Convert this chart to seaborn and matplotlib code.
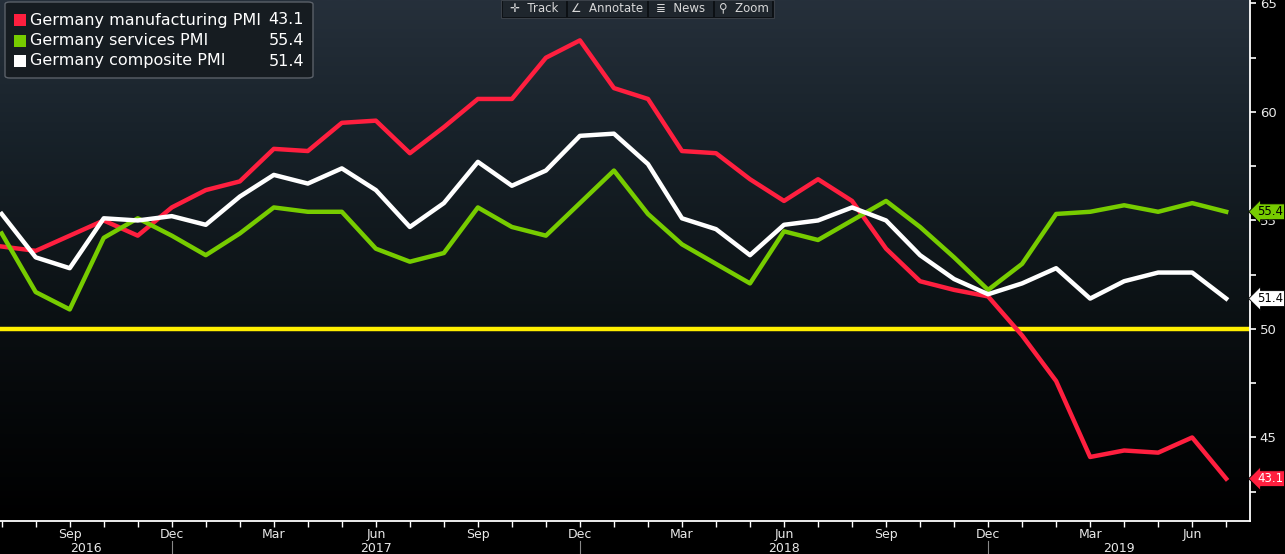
import numpy as np
import pandas as pd
import seaborn as sns
import matplotlib.pyplot as plt
from matplotlib.colors import LinearSegmentedColormap
from matplotlib.patches import FancyBboxPatch, Rectangle
from matplotlib.transforms import blended_transform_factory
from matplotlib.lines import Line2D

# monthly data, Jul 2016 .. Jul 2019
months = pd.period_range("2016-07", "2019-07", freq="M")
manufacturing = [53.8, 53.6, 54.3, 55.0, 54.3, 55.6,
                 56.4, 56.8, 58.3, 58.2, 59.5, 59.6, 58.1, 59.3, 60.6, 60.6, 62.5, 63.3,
                 61.1, 60.6, 58.2, 58.1, 56.9, 55.9, 56.9, 55.9, 53.7, 52.2, 51.8, 51.5,
                 49.7, 47.6, 44.1, 44.4, 44.3, 45.0, 43.1]
services = [54.4, 51.7, 50.9, 54.2, 55.1, 54.3,
            53.4, 54.4, 55.6, 55.4, 55.4, 53.7, 53.1, 53.5, 55.6, 54.7, 54.3, 55.8,
            57.3, 55.3, 53.9, 53.0, 52.1, 54.5, 54.1, 55.0, 55.9, 54.7, 53.3, 51.8,
            53.0, 55.3, 55.4, 55.7, 55.4, 55.8, 55.4]
composite = [55.3, 53.3, 52.8, 55.1, 55.0, 55.2,
             54.8, 56.1, 57.1, 56.7, 57.4, 56.4, 54.7, 55.8, 57.7, 56.6, 57.3, 58.9,
             59.0, 57.6, 55.1, 54.6, 53.4, 54.8, 55.0, 55.6, 55.0, 53.4, 52.3, 51.6,
             52.1, 52.8, 51.4, 52.2, 52.6, 52.6, 51.4]
series_names = ["Germany manufacturing PMI", "Germany services PMI", "Germany composite PMI"]
threshold = 50
y_ticks = [45, 50, 55, 60, 65]

colors = {"Germany manufacturing PMI": "#ff1f3f",
          "Germany services PMI": "#77cc00",
          "Germany composite PMI": "#ffffff"}

W, H = 1285, 554
fig = plt.figure(figsize=(W / 100, H / 100), dpi=100, facecolor="black")
ax = fig.add_axes([0, 33 / H, 1250 / W, 1 - 33 / H])
ax.set_facecolor("black")

# gradient background
grad = LinearSegmentedColormap.from_list(
    "bg", ["#000000", "#06090b", "#0f161a", "#18222a", "#26303b"])
ax.imshow(np.linspace(0, 1, 256).reshape(-1, 1), cmap=grad, aspect="auto",
          extent=[0, 1, 0, 1], transform=ax.transAxes, origin="lower", zorder=0)

k = np.arange(len(months))
df = pd.DataFrame({
    "k": np.concatenate([k, k, k]),
    "value": manufacturing + services + composite,
    "series": np.repeat(series_names, len(months)),
})
ax.axhline(threshold, color="#ffee00", lw=3.2, zorder=1.5)
sns.lineplot(data=df, x="k", y="value", hue="series", palette=colors,
             hue_order=series_names, linewidth=3.2, legend=False, ax=ax, zorder=2)

ax.set_xlim(-0.05, 36.7)
ax.set_ylim(41.15, 65.16)
ax.set_xlabel("")
ax.set_ylabel("")

# spines
for s in ["left", "top"]:
    ax.spines[s].set_visible(False)
for s in ["bottom", "right"]:
    ax.spines[s].set_color("white")
    ax.spines[s].set_linewidth(1.3)

# y axis on right
ax.yaxis.tick_right()
ax.set_yticks(y_ticks)
ax.set_yticks([42.5, 47.5, 52.5, 57.5, 62.5], minor=True)
ax.tick_params(axis="y", which="both", colors="white", direction="out", length=4,
               width=1.2, labelsize=9.5, labelcolor="#e8e8e8", pad=3)

# x axis: monthly ticks, quarter labels
ax.set_xticks(k)
ax.set_xticklabels([p.strftime("%b") if p.month in (3, 6, 9, 12) else "" for p in months])
ax.tick_params(axis="x", colors="white", direction="out", length=4, width=1.0,
               labelsize=9, labelcolor="#e8e8e8", pad=1)

# year labels and separators
tx = blended_transform_factory(ax.transData, fig.transFigure)
years = [(2016, -0.05, 5), (2017, 5, 17), (2018, 17, 29), (2019, 29, 36.7)]
for yr, a, b in years:
    ax.text((a + b) / 2, 6 / H, str(yr), transform=tx, ha="center", va="center",
            color="#e8e8e8", fontsize=9, clip_on=False)
for sep in [5, 17, 29]:
    fig.add_artist(Line2D([sep, sep], [0, 13 / H], transform=tx, color="#888888", lw=0.8))

# value tags on the right
ty = blended_transform_factory(fig.transFigure, ax.transData)
tags = [(services[-1], "#77cc00", "black"),
        (composite[-1], "#ffffff", "black"),
        (manufacturing[-1], "#ff1f3f", "white")]
for val, fc, tc in tags:
    ax.text(1257 / W, val, f"{val:.1f}", transform=ty, ha="left", va="center",
            fontsize=8.5, color=tc, clip_on=False, zorder=5,
            bbox=dict(boxstyle="larrow,pad=0.12", fc=fc, ec="black", lw=0.6))

# legend box
def fx(px):
    return px / W

def fy(py):
    return 1 - py / H

fig.add_artist(FancyBboxPatch((fx(5), fy(78)), fx(308), 76 / H,
                              boxstyle="round,pad=0,rounding_size=0.004",
                              fc="#161c21", ec="#5a6068", lw=1.0, transform=fig.transFigure))
legend_vals = [manufacturing[-1], services[-1], composite[-1]]
for i, (name, val) in enumerate(zip(series_names, legend_vals)):
    yc = 20 + i * 20.5
    fig.add_artist(Rectangle((fx(14), fy(yc + 6)), fx(12), 12 / H,
                             fc=colors[name], ec="none", transform=fig.transFigure))
    fig.text(fx(30), fy(yc), name, ha="left", va="center", color="white", fontsize=11.5)
    fig.text(fx(304), fy(yc), f"{val:.1f}", ha="right", va="center", color="white",
             fontsize=11.5)

# toolbar
fig.add_artist(Rectangle((fx(501), fy(18)), fx(273), 18 / H, fc="#0c1014",
                         ec="#3a4048", lw=0.8, transform=fig.transFigure))
buttons = [("\u271b  Track", 503, 566), ("\u2220  Annotate", 568, 647),
           ("\u2263  News", 649, 713), ("\u26b2  Zoom", 715, 772)]
for label, a, b in buttons:
    fig.add_artist(Rectangle((fx(a), fy(17)), fx(b - a), 16 / H, fc="#1f262d",
                             ec="none", transform=fig.transFigure))
    fig.text(fx((a + b) / 2), fy(8), label, ha="center", va="center",
             color="#d8d8d8", fontsize=8.5)

fig.savefig("out.png", dpi=100, facecolor="black")
